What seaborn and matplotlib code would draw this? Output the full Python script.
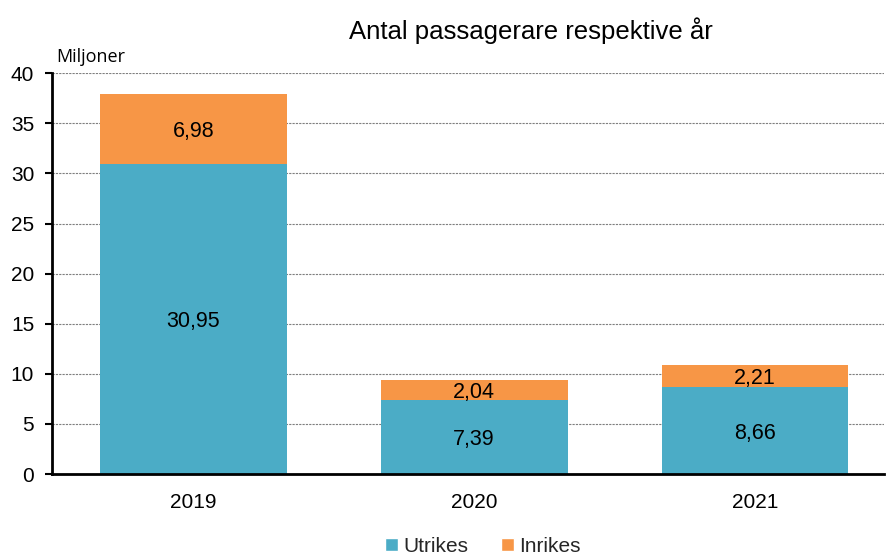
import numpy as np
import pandas as pd
import matplotlib
matplotlib.use("Agg")
import matplotlib.pyplot as plt
import seaborn as sns
from matplotlib.patches import Patch

# Data
years = ["2019", "2020", "2021"]
utrikes = [30.95, 7.39, 8.66]
inrikes = [6.98, 2.04, 2.21]

sns.set_theme(style="white")
plt.rcParams["font.family"] = ["Liberation Sans", "DejaVu Sans"]

blue = "#4BACC6"
orange = "#F79646"

df = pd.DataFrame({"year": years, "Utrikes": utrikes, "Inrikes": inrikes})
df["total"] = df["Utrikes"] + df["Inrikes"]

fig = plt.figure(figsize=(8.86, 5.59), dpi=100)
ax = fig.add_axes([0.059, 0.152, 0.939, 0.717])

sns.barplot(data=df, x="year", y="total", color=orange, width=0.665,
            saturation=1, linewidth=0, ax=ax, zorder=2)
sns.barplot(data=df, x="year", y="Utrikes", color=blue, width=0.665,
            saturation=1, linewidth=0, ax=ax, zorder=3)

# data labels
for i, (u, n) in enumerate(zip(utrikes, inrikes)):
    ax.text(i, u / 2, f"{u:.2f}".replace(".", ","), ha="center", va="center_baseline",
            fontsize=15.5, color="black", zorder=5)
    ax.text(i, u + n / 2, f"{n:.2f}".replace(".", ","), ha="center", va="center_baseline",
            fontsize=15.5, color="black", zorder=5)

ax.set_ylim(0, 40)
ax.set_xlim(-0.502, 2.46)
ax.set_yticks(range(0, 41, 5))
ax.yaxis.grid(True, color="#7f7f7f", linestyle=(0, (2, 1)), linewidth=0.8, zorder=0)
ax.set_axisbelow(True)
ax.set_xlabel("")
ax.set_ylabel("")

for s in ["top", "right"]:
    ax.spines[s].set_visible(False)
ax.spines["left"].set_color("black")
ax.spines["left"].set_linewidth(2)
ax.spines["bottom"].set_color("black")
ax.spines["bottom"].set_linewidth(2)
ax.spines["left"].set_zorder(6)
ax.spines["bottom"].set_zorder(6)

ax.tick_params(axis="y", which="both", left=True, length=5, width=1.5,
               labelsize=15, colors="black", pad=8)
ax.tick_params(axis="x", bottom=False, labelsize=15, colors="black", pad=8)

fig.text(0.599, 0.945, "Antal passagerare respektive år", ha="center", va="center",
         fontsize=18.5, color="black")
fig.text(0.064, 0.898, "Miljoner", ha="left", va="center", fontsize=13,
         color="black", family=["Open Sans", "DejaVu Sans"])

handles = [Patch(facecolor=blue, label="Utrikes"), Patch(facecolor=orange, label="Inrikes")]
fig.legend(handles=handles, loc="center", bbox_to_anchor=(0.545, 0.022), ncol=2,
           frameon=False, fontsize=15, handlelength=0.6, handleheight=0.6,
           handletextpad=0.25, columnspacing=1.6, borderpad=0.1)

fig.savefig("out.png", dpi=100)
